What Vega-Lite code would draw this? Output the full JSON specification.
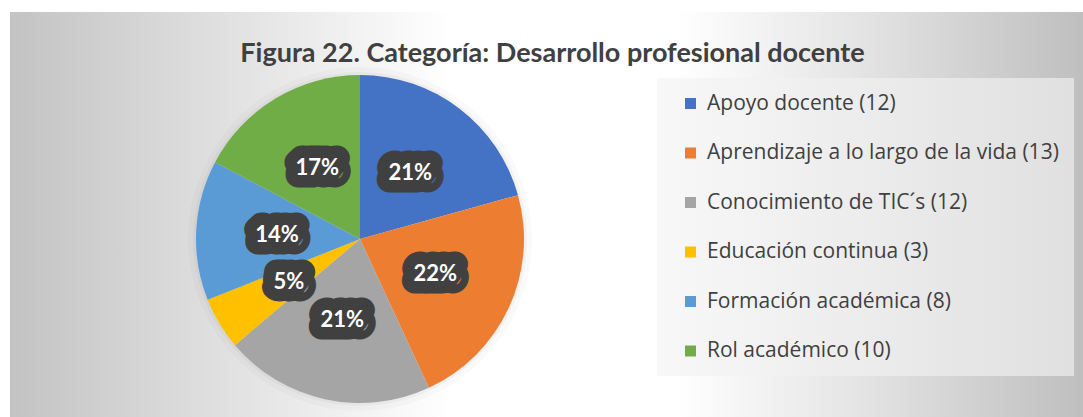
{
  "$schema": "https://vega.github.io/schema/vega-lite/v6.json",
  "width": 1083,
  "height": 417,
  "autosize": {"type": "fit", "contains": "padding"},
  "padding": {"left": 10, "top": 12, "right": 0, "bottom": 0},
  "background": "#ffffff",
  "title": {
    "text": "Figura 22. Categoría: Desarrollo profesional docente",
    "font": "Lato",
    "fontSize": 27,
    "fontWeight": "bold",
    "color": "#404040",
    "anchor": "middle",
    "frame": "group",
    "baseline": "alphabetic",
    "offset": -77,
    "dx": 6
  },
  "config": {
    "view": {"stroke": "#c6c6c6", "strokeWidth": 1},
    "font": "Lato"
  },
  "data": {
    "values": [
      {"category": "Apoyo docente (12)", "value": 12, "label": "21%"},
      {"category": "Aprendizaje a lo largo de la vida (13)", "value": 13, "label": "22%"},
      {"category": "Conocimiento de TIC´s (12)", "value": 12, "label": "21%"},
      {"category": "Educación continua (3)", "value": 3, "label": "5%"},
      {"category": "Formación académica (8)", "value": 8, "label": "14%"},
      {"category": "Rol académico (10)", "value": 10, "label": "17%"}
    ]
  },
  "layer": [
    {
      "data": {"values": [{}]},
      "mark": {
        "type": "rect",
        "x": 0, "x2": {"expr": "width"}, "y": 0, "y2": {"expr": "height"},
        "color": {
          "gradient": "linear", "x1": 0, "y1": 0, "x2": 1, "y2": 0,
          "stops": [
            {"offset": 0, "color": "#c3c3c3"},
            {"offset": 0.17, "color": "#dcdcdc"},
            {"offset": 0.41, "color": "#ffffff"},
            {"offset": 0.62, "color": "#ffffff"},
            {"offset": 0.78, "color": "#e6e6e6"},
            {"offset": 1, "color": "#bfbfbf"}
          ]
        }
      },
      "encoding": {}
    },
    {
      "data": {"values": [{}]},
      "mark": {"type": "arc", "x": 350, "y": 227, "radius": 172, "theta": 0, "theta2": 6.2832, "color": "#000000", "opacity": 0.02},
      "encoding": {}
    },
    {
      "data": {"values": [{}]},
      "mark": {"type": "arc", "x": 350, "y": 227, "radius": 167, "theta": 0, "theta2": 6.2832, "color": "#000000", "opacity": 0.03},
      "encoding": {}
    },
    {
      "mark": {"type": "arc", "x": 350, "y": 227, "radius": 164},
      "encoding": {
        "theta": {"field": "value", "type": "quantitative", "stack": true},
        "order": {"field": "category", "type": "ordinal", "sort": "ascending"},
        "color": {
          "field": "category",
          "type": "nominal",
          "scale": {
            "domain": ["Apoyo docente (12)", "Aprendizaje a lo largo de la vida (13)", "Conocimiento de TIC´s (12)", "Educación continua (3)", "Formación académica (8)", "Rol académico (10)"],
            "range": ["#4472C4", "#ED7D31", "#A5A5A5", "#FFC000", "#5B9BD5", "#70AD47"]
          },
          "legend": {
            "orient": "none",
            "legendX": 647,
            "legendY": 66,
            "title": null,
            "direction": "vertical",
            "symbolType": "square",
            "symbolSize": 121,
            "symbolStrokeWidth": 0,
            "symbolOpacity": 1,
            "labelFont": "Open Sans",
            "labelFontSize": 21,
            "labelColor": "#404040",
            "labelLimit": 600,
            "rowPadding": 27.5,
            "padding": 15,
            "symbolOffset": 8,
            "labelOffset": 6,
            "fillColor": "#f4f4f4",
            "encode": {
              "legend": {
                "update": {
                  "fill": {"value": {"gradient": "linear", "x1": 0, "y1": 0, "x2": 1, "y2": 0, "stops": [{"offset": 0, "color": "#f8f8f8"}, {"offset": 1, "color": "#e0e0e0"}]}}
                }
              }
            }
          }
        }
      }
    },
    {
      "mark": {"type": "text", "x": 350, "y": 227, "radius": 83, "font": "Lato", "fontSize": 22, "fontWeight": "bold", "fill": "#404040", "stroke": "#404040", "strokeWidth": 25, "strokeJoin": "round"},
      "encoding": {
        "theta": {"field": "value", "type": "quantitative", "stack": true},
        "order": {"field": "category", "type": "ordinal", "sort": "ascending"},
        "detail": {"field": "category"},
        "text": {"field": "label"}
      }
    },
    {
      "mark": {"type": "text", "x": 350, "y": 227, "radius": 83, "font": "Lato", "fontSize": 22, "fontWeight": "bold", "fill": "#ffffff"},
      "encoding": {
        "theta": {"field": "value", "type": "quantitative", "stack": true},
        "order": {"field": "category", "type": "ordinal", "sort": "ascending"},
        "detail": {"field": "category"},
        "text": {"field": "label"}
      }
    }
  ]
}
